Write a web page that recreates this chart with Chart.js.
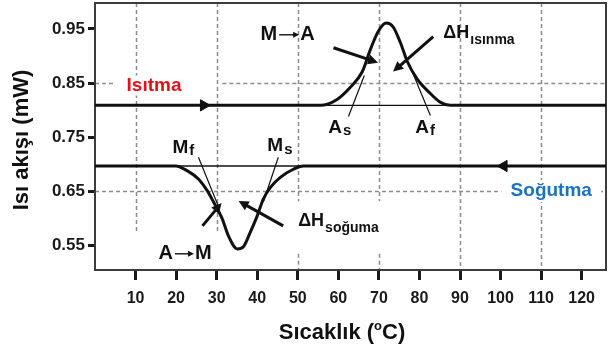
<!DOCTYPE html>
<html>
<head>
<meta charset="utf-8">
<script src="https://cdn.jsdelivr.net/npm/chart.js@4.4.1/dist/chart.umd.min.js"></script>
<style>
  html, body { margin: 0; padding: 0; background: #fff; }
  #wrap { width: 614px; height: 352px; position: relative; }
</style>
</head>
<body>
<div id="wrap"><canvas id="dsc"></canvas></div>
<script>
// DSC trace: heating run (endothermic M→A peak) and cooling run (exothermic A→M dip)
const heatingT    = [0, 55.6, 59.7, 62.9, 65.9, 67.9, 69.8, 71.8, 73.5, 75.3, 77.0, 79.5, 82.4, 85.1, 87.6, 126];
const heatingFlow = [0.809, 0.809, 0.820, 0.842, 0.871, 0.912, 0.945, 0.961, 0.954, 0.925, 0.890, 0.857, 0.833, 0.815, 0.809, 0.809];
const coolingT    = [0, 19.9, 22.8, 25.5, 27.7, 29.2, 31.4, 32.9, 35.1, 36.6, 38.3, 40.0, 41.5, 43.3, 45.7, 48.9, 51.4, 126];
const coolingFlow = [0.697, 0.697, 0.688, 0.673, 0.651, 0.631, 0.599, 0.568, 0.544, 0.548, 0.575, 0.605, 0.636, 0.658, 0.676, 0.691, 0.697, 0.697];
const heatingBase = 0.809;
const coolingBase = 0.697;

// axis ticks
const xTicks = [10, 20, 30, 40, 50, 60, 70, 80, 90, 100, 110, 120];
const yTicks = [0.55, 0.65, 0.75, 0.85, 0.95];
const xRange = [0, 126];
const yRange = [0.505, 0.998];

// dashed reference lines: [position, from, to] (null = plot edge)
const xGridRuns = [
  [10, 0.575, null],
  [30, 0.575, null],
  [50, 0.632, null], [50, null, 0.535],
  [70, 0.632, null], [70, null, 0.535],
  [90, null, null],
  [110, null, null]
];
const yGridRuns = [
  [0.85, null, 4.6], [0.85, 31.4, null],
  [0.65, null, null]
];

// run direction markers (temperature, flow, rotation)
const runMarks = [
  { x: 26.8,  y: heatingBase, rot: 90 },
  { x: 100.8, y: coolingBase, rot: -90 }
];

// annotation arrows and leader lines, in data units
const thickArrows = [
  [58.8, 0.9154, 69.8, 0.8879],
  [83.4, 0.9357, 73.5, 0.8713],
  [26.5, 0.5864, 31.2, 0.6287],
  [46.4, 0.5864, 35.4, 0.6324]
];
const leaders = [
  [62.5, 0.7884, 66.4, 0.8640],
  [82.7, 0.7904, 77.2, 0.8897],
  [25.5, 0.7132, 30.4, 0.6232],
  [45.2, 0.7132, 41.5, 0.6305]
];

const zip = (xs, ys) => xs.map((x, i) => ({ x, y: ys[i] }));
const FONT = '"Liberation Sans", Arial, sans-serif';

function arrowHead(ctx, x1, y1, x2, y2, len, half) {
  const a = Math.atan2(y2 - y1, x2 - x1);
  ctx.beginPath();
  ctx.moveTo(x2, y2);
  ctx.lineTo(x2 - len * Math.cos(a) + half * Math.sin(a), y2 - len * Math.sin(a) - half * Math.cos(a));
  ctx.lineTo(x2 - len * Math.cos(a) - half * Math.sin(a), y2 - len * Math.sin(a) + half * Math.cos(a));
  ctx.closePath();
  ctx.fill();
}

function subText(ctx, x, y, main, sub, mainSize, subSize, dy) {
  ctx.font = 'bold ' + mainSize + 'px ' + FONT;
  ctx.textAlign = 'left';
  ctx.textBaseline = 'middle';
  ctx.fillText(main, x, y);
  const w = ctx.measureText(main).width;
  ctx.font = 'bold ' + subSize + 'px ' + FONT;
  ctx.fillText(sub, x + w + 1, y + dy);
}

function transText(ctx, x, y, from, to, size, gap) {
  ctx.font = 'bold ' + size + 'px ' + FONT;
  ctx.textAlign = 'left';
  ctx.textBaseline = 'middle';
  ctx.fillText(from, x, y);
  const w = ctx.measureText(from).width;
  const ax = x + w + 2, bx = ax + gap;
  ctx.lineWidth = 1.4;
  ctx.beginPath(); ctx.moveTo(ax, y); ctx.lineTo(bx - 5, y); ctx.stroke();
  arrowHead(ctx, ax, y, bx, y, 6, 3);
  ctx.fillText(to, bx + 1, y);
}

// dashed reference grid, plot frame and annotations
const framePlugin = {
  id: 'frame',
  beforeDatasetsDraw(chart) {
    const { ctx, chartArea: a, scales: { x, y } } = chart;
    ctx.save();
    ctx.strokeStyle = '#8c8c8c';
    ctx.lineWidth = 1.5;
    ctx.setLineDash([4, 3]);
    xGridRuns.forEach(([v, from, to]) => {
      const px = Math.round(x.getPixelForValue(v)) + 0.5;
      const y1 = to === null ? a.top : y.getPixelForValue(to);
      const y2 = from === null ? a.bottom : y.getPixelForValue(from);
      ctx.beginPath(); ctx.moveTo(px, y1); ctx.lineTo(px, y2); ctx.stroke();
    });
    yGridRuns.forEach(([v, from, to]) => {
      const py = Math.round(y.getPixelForValue(v)) + 0.5;
      const x1 = from === null ? a.left : x.getPixelForValue(from);
      const x2 = to === null ? a.right : x.getPixelForValue(to);
      ctx.beginPath(); ctx.moveTo(x1, py); ctx.lineTo(x2, py); ctx.stroke();
    });
    ctx.setLineDash([]);
    // keep the run labels clear of the dashed lines
    ctx.fillStyle = '#fff';
    const box = (v1, v2, w, h) => {
      const cx = x.getPixelForValue(v1), cy = y.getPixelForValue(v2);
      ctx.fillRect(cx - w / 2, cy - h / 2, w, h);
    };
    box(14.56, 0.8456, 74, 20);
    box(112.5, 0.6507, 100, 22);
    ctx.strokeStyle = '#3c3c3c';
    ctx.lineWidth = 2;
    ctx.strokeRect(a.left, a.top, a.right - a.left, a.bottom - a.top);
    ctx.restore();
  },
  afterDraw(chart) {
    const { ctx, scales: { x, y } } = chart;
    const X = v => x.getPixelForValue(v), Y = v => y.getPixelForValue(v);
    ctx.save();
    ctx.fillStyle = '#111';
    ctx.strokeStyle = '#111';
    ctx.lineCap = 'butt';

    // thin leader lines to the transformation temperatures
    ctx.lineWidth = 1.2;
    leaders.forEach(([a, b, c, d]) => {
      ctx.beginPath(); ctx.moveTo(X(a), Y(b)); ctx.lineTo(X(c), Y(d)); ctx.stroke();
    });

    // heavy pointer arrows
    ctx.lineWidth = 3;
    thickArrows.forEach(([a, b, c, d]) => {
      const x1 = X(a), y1 = Y(b), x2 = X(c), y2 = Y(d);
      const ang = Math.atan2(y2 - y1, x2 - x1);
      ctx.beginPath(); ctx.moveTo(x1, y1); ctx.lineTo(x2 - 7 * Math.cos(ang), y2 - 7 * Math.sin(ang)); ctx.stroke();
      arrowHead(ctx, x1, y1, x2, y2, 10, 5);
    });

    // run labels
    ctx.textAlign = 'center';
    ctx.textBaseline = 'middle';
    ctx.font = 'bold 19px ' + FONT;
    ctx.fillStyle = '#e3101b';
    ctx.fillText('Isıtma', X(14.56), Y(0.8456));
    ctx.fillStyle = '#1a72c2';
    ctx.fillText('Soğutma', X(112.5), Y(0.6507));

    ctx.fillStyle = '#111';
    transText(ctx, X(40.8), Y(0.9393), 'M', 'A', 20, 20);
    transText(ctx, X(15.67), Y(0.5349), 'A', 'M', 20, 19);

    subText(ctx, X(85.9), Y(0.943), 'ΔH', 'ısınma', 18, 14, 7);
    subText(ctx, X(50.1), Y(0.5953), 'ΔH', 'soğuma', 18, 14, 7);
    subText(ctx, X(57.5), Y(0.7684), 'A', 's', 19, 15, 4);
    subText(ctx, X(78.96), Y(0.7684), 'A', 'f', 19, 15, 4);
    subText(ctx, X(19.1), Y(0.7316), 'M', 'f', 19, 15, 4);
    subText(ctx, X(42.5), Y(0.7335), 'M', 's', 19, 15, 4);

    // axis titles
    ctx.fillStyle = '#111';
    ctx.font = 'bold 22px ' + FONT;
    ctx.textBaseline = 'middle';
    ctx.textAlign = 'center';
    ctx.save();
    ctx.translate(22, 140);
    ctx.rotate(-Math.PI / 2);
    ctx.fillText('Isı akışı (mW)', 0, 0);
    ctx.restore();

    const t1 = 'Sıcaklık (', t2 = 'o', t3 = 'C)';
    ctx.font = 'bold 22px ' + FONT;
    const w1 = ctx.measureText(t1).width, w3 = ctx.measureText(t3).width;
    ctx.font = 'bold 13px ' + FONT;
    const w2 = ctx.measureText(t2).width;
    const sx = 342 - (w1 + w2 + w3) / 2;
    const ty = 333;
    ctx.textAlign = 'left';
    ctx.font = 'bold 22px ' + FONT;
    ctx.fillText(t1, sx, ty);
    ctx.font = 'bold 13px ' + FONT;
    ctx.fillText(t2, sx + w1, ty - 7);
    ctx.font = 'bold 22px ' + FONT;
    ctx.fillText(t3, sx + w1 + w2, ty);
    ctx.restore();
  }
};

const lineStyle = {
  borderColor: '#111',
  pointRadius: 0,
  fill: false,
  cubicInterpolationMode: 'monotone'
};

new Chart(document.getElementById('dsc'), {
  type: 'line',
  data: {
    datasets: [
      { ...lineStyle, label: 'Isıtma taban', data: zip([xRange[0], xRange[1]], [heatingBase, heatingBase]), borderWidth: 1.3 },
      { ...lineStyle, label: 'Soğutma taban', data: zip([xRange[0], xRange[1]], [coolingBase, coolingBase]), borderWidth: 1.3 },
      { ...lineStyle, label: 'Isıtma', data: zip(heatingT, heatingFlow), borderWidth: 3 },
      { ...lineStyle, label: 'Soğutma', data: zip(coolingT, coolingFlow), borderWidth: 3 },
      {
        type: 'scatter', label: 'yön',
        data: runMarks.map(m => ({ x: m.x, y: m.y })),
        pointStyle: 'triangle',
        rotation: runMarks.map(m => m.rot),
        radius: 6.5,
        backgroundColor: '#111',
        borderColor: '#111',
        borderWidth: 1
      }
    ]
  },
  options: {
    responsive: true,
    maintainAspectRatio: false,
    animation: false,
    layout: { autoPadding: false, padding: { top: 3, right: 8, left: 0, bottom: 0 } },
    plugins: { legend: { display: false }, tooltip: { enabled: false } },
    scales: {
      x: {
        type: 'linear',
        min: xRange[0], max: xRange[1],
        afterBuildTicks: s => { s.ticks = xTicks.map(v => ({ value: v })); },
        afterFit: s => { s.height = 82; s.paddingLeft = 0; s.paddingRight = 0; },
        grid: { drawOnChartArea: false, drawTicks: true, tickLength: 10, tickWidth: 3, tickColor: '#1a1a1a' },
        border: { display: false },
        ticks: { color: '#1a1a1a', font: { family: FONT, size: 16, weight: 'bold' }, padding: 9, maxRotation: 0, autoSkip: false }
      },
      y: {
        type: 'linear',
        min: yRange[0], max: yRange[1],
        afterBuildTicks: s => { s.ticks = yTicks.map(v => ({ value: v })); },
        afterFit: s => { s.width = 95; s.paddingTop = 0; s.paddingBottom = 0; },
        grid: { drawOnChartArea: false, drawTicks: true, tickLength: 7, tickWidth: 3, tickColor: '#1a1a1a' },
        border: { display: false },
        ticks: { color: '#1a1a1a', font: { family: FONT, size: 17, weight: 'bold' }, padding: 3, callback: v => v.toFixed(2) }
      }
    }
  },
  plugins: [framePlugin]
});
</script>
</body>
</html>
